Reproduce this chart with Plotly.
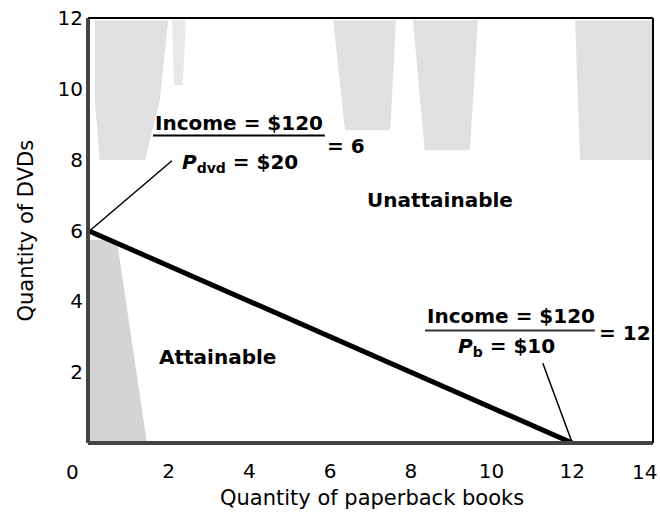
import plotly.graph_objects as go

# Budget line data
budget_x = [0, 12]
budget_y = [6, 0]
x_ticks = [2, 4, 6, 8, 10, 12, 14]
y_ticks = [2, 4, 6, 8, 10, 12]
x_title = "Quantity of paperback books"
y_title = "Quantity of DVDs"

FONT = "DejaVu Sans"

fig = go.Figure()

# leader lines
fig.add_trace(go.Scatter(x=[0.05, 2.08], y=[6.0, 7.97], mode="lines",
                         line=dict(color="black", width=1.5), showlegend=False, hoverinfo="skip"))
fig.add_trace(go.Scatter(x=[11.27, 12.0], y=[2.25, 0.0], mode="lines",
                         line=dict(color="black", width=1.5), showlegend=False, hoverinfo="skip"))
fig.add_trace(go.Scatter(x=budget_x, y=budget_y, mode="lines",
                         line=dict(color="black", width=5), showlegend=False,
                         hoverinfo="skip"))


def poly(pts):
    return "M " + " L ".join(f"{x},{y}" for x, y in pts) + " Z"


texture = [
    ([(0.012, 0.995), (0.142, 0.995), (0.127, 0.807), (0.101, 0.666), (0.021, 0.666), (0.012, 0.807)], "#e0e0e0"),
    ([(0.149, 0.995), (0.173, 0.995), (0.168, 0.842), (0.152, 0.842)], "#e8e8e8"),
    ([(0.434, 0.995), (0.545, 0.995), (0.535, 0.736), (0.455, 0.736)], "#e0e0e0"),
    ([(0.575, 0.995), (0.690, 0.995), (0.676, 0.689), (0.596, 0.689)], "#e0e0e0"),
    ([(0.862, 0.995), (0.998, 0.995), (0.998, 0.666), (0.871, 0.666)], "#e0e0e0"),
    ([(0.002, 0.478), (0.051, 0.478), (0.104, 0.002), (0.002, 0.002)], "#d4d4d4"),
]

shapes = []
for pts, col in texture:
    shapes.append(dict(type="path", xref="paper", yref="paper", path=poly(pts),
                       fillcolor=col, line=dict(width=0), layer="below"))

shapes += [
    # fraction bars
    dict(type="line", xref="x", yref="y", x0=1.61, x1=5.87, y0=8.68, y1=8.68,
         line=dict(color="black", width=2)),
    dict(type="line", xref="x", yref="y", x0=8.35, x1=12.56, y0=3.18, y1=3.18,
         line=dict(color="#333", width=2)),
    # frame
    dict(type="line", xref="paper", yref="paper", x0=0, x1=0, y0=0, y1=1,
         line=dict(color="#444", width=4)),
    dict(type="line", xref="paper", yref="paper", x0=0, x1=1, y0=0, y1=0,
         line=dict(color="#444", width=4)),
    dict(type="line", xref="paper", yref="paper", x0=0, x1=1, y0=1, y1=1,
         line=dict(color="black", width=2)),
    dict(type="line", xref="paper", yref="paper", x0=1, x1=1, y0=0, y1=1,
         line=dict(color="black", width=2)),
]

tick_font = dict(family=FONT, size=20, color="black")
bold = dict(family=FONT, size=20, color="black", weight="bold")
annotations = [
    dict(x=3.74, y=9.04, text="Income = $120", showarrow=False, font=bold),
    dict(x=3.77, y=7.9, text="<i>P</i><sub>dvd</sub> = $20", showarrow=False, font=bold),
    dict(x=6.4, y=8.4, text="= 6", showarrow=False, font=bold),
    dict(x=10.48, y=3.6, text="Income = $120", showarrow=False, font=bold),
    dict(x=10.38, y=2.7, text="<i>P</i><sub>b</sub> = $10", showarrow=False, font=bold),
    dict(x=13.3, y=3.1, text="= 12", showarrow=False, font=bold),
    dict(x=8.72, y=6.85, text="Unattainable", showarrow=False, font=bold),
    dict(x=3.2, y=2.42, text="Attainable", showarrow=False, font=bold),
    # origin label, offset to the left of the corner as in the original
    dict(x=0, y=0, xref="paper", yref="paper", text="0", showarrow=False,
         xanchor="center", yanchor="middle",
         xshift=-16, yshift=-29, font=tick_font),
    # last x tick label, kept inside the figure edge
    dict(x=x_ticks[-1], y=0, xref="x", yref="paper", text=str(x_ticks[-1]), showarrow=False,
         xanchor="right", yanchor="middle", xshift=6, yshift=-29, font=tick_font),
    dict(x=0.503, y=-0.129, xref="paper", yref="paper", text=x_title, showarrow=False,
         xanchor="center", yanchor="middle",
         font=dict(family=FONT, size=21, color="black")),
    dict(x=-0.1115, y=0.5, xref="paper", yref="paper", text=y_title, showarrow=False,
         xanchor="center", yanchor="middle",
         textangle=-90, font=dict(family=FONT, size=21, color="black")),
]

fig.update_layout(
    width=660, height=522,
    margin=dict(l=88, r=7, t=18, b=79),
    plot_bgcolor="white", paper_bgcolor="white",
    shapes=shapes, annotations=annotations,
    font=dict(family=FONT, size=20, color="black"),
    xaxis=dict(range=[0, 14], tickvals=x_ticks[:-1], ticktext=[str(v) for v in x_ticks[:-1]],
               showgrid=False, zeroline=False, showline=False, ticks="",
               automargin=False, ticklabelstandoff=14,
               fixedrange=True),
    yaxis=dict(range=[0, 12], tickvals=y_ticks, ticktext=[str(v) for v in y_ticks],
               showgrid=False, zeroline=False, showline=False, ticks="",
               automargin=False, ticklabelstandoff=4,
               fixedrange=True),
)

fig.write_html("out.html", config={"displayModeBar": False},
               post_script="document.body.style.margin='0';document.body.style.overflow='hidden';")
